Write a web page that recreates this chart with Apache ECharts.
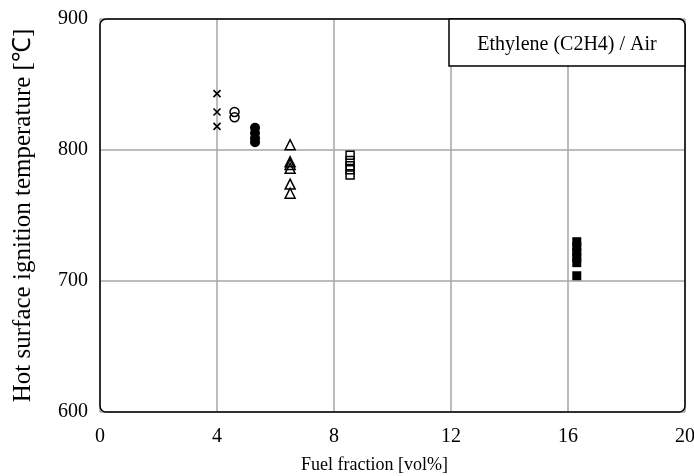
<!DOCTYPE html>
<html><head><meta charset="utf-8">
<script src="https://cdn.jsdelivr.net/npm/echarts@6/dist/echarts.min.js"></script>
<style>html,body{margin:0;padding:0;background:#fff}#c{width:694px;height:476px}</style>
</head><body><div id="c"></div>
<script>
// Data (fuel fraction [vol%], temperature [°C])
const crossX = 4.0;   const crossY = [843, 829, 818];
const openCircX = 4.6; const openCircY = [829, 825];
const fillCircX = 5.3; const fillCircY = [817, 813, 809, 806];
const triX = 6.5;     const triY = [804, 791, 789, 786, 774, 767];
const openSqX = 8.55; const openSqY = [796, 792, 788, 785, 781];
const fillSqX = 16.3; const fillSqY = [730, 726, 722, 718, 714, 704];
const xTicks = [0, 4, 8, 12, 16, 20];
const yTicks = [600, 700, 800, 900];
const legendText = 'Ethylene (C2H4) / Air';

const FONT = '"Liberation Serif", "Times New Roman", serif';
const pts = (x, ys) => ys.map(y => [x, y]);
const G = {left: 100, top: 19, right: 9, bottom: 64};
const W = 694, H = 476;
const BOX_L = 449, BOX_H = 47;

const chart = echarts.init(document.getElementById('c'), null, {renderer: 'canvas'});
chart.setOption({
  animation: false,
  backgroundColor: '#fff',
  grid: {left: G.left, top: G.top, right: G.right, bottom: G.bottom, show: false,
         containLabel: false, outerBoundsMode: 'none'},
  xAxis: {
    type: 'value', min: xTicks[0], max: xTicks[xTicks.length-1], interval: 4,
    name: 'Fuel fraction [vol%]', nameLocation: 'middle', nameGap: 44,
    nameTextStyle: {fontFamily: FONT, fontSize: 18, color: '#000', padding: [0, 36, 0, 0]},
    axisLine: {show: false}, axisTick: {show: false},
    axisLabel: {fontFamily: FONT, fontSize: 20, color: '#000', margin: 15},
    splitLine: {show: true, lineStyle: {color: '#a6a6a6', width: 1.5}}
  },
  yAxis: {
    type: 'value', min: yTicks[0], max: yTicks[yTicks.length-1], interval: 100,
    name: 'Hot surface ignition temperature [℃]', nameLocation: 'middle', nameGap: 64,
    nameTextStyle: {fontFamily: FONT, fontSize: 25, color: '#000'},
    axisLine: {show: false}, axisTick: {show: false},
    axisLabel: {fontFamily: FONT, fontSize: 20, color: '#000', margin: 12},
    splitLine: {show: true, lineStyle: {color: '#a6a6a6', width: 1.5}}
  },
  series: [
    {type: 'scatter', data: pts(crossX, crossY), symbol: 'path://M0,0L10,10M10,0L0,10', symbolSize: 7,
     itemStyle: {color: 'transparent', borderColor: '#000', borderWidth: 1.6, opacity: 1}},
    {type: 'scatter', data: pts(openCircX, openCircY), symbol: 'circle', symbolSize: 9,
     itemStyle: {color: 'transparent', borderColor: '#000', borderWidth: 1.5, opacity: 1}},
    {type: 'scatter', data: pts(fillCircX, fillCircY), symbol: 'circle', symbolSize: 10,
     itemStyle: {color: '#000', opacity: 1}},
    {type: 'scatter', data: pts(triX, triY), symbol: 'triangle', symbolSize: 10,
     itemStyle: {color: 'transparent', borderColor: '#000', borderWidth: 1.5, opacity: 1}},
    {type: 'scatter', data: pts(openSqX, openSqY), symbol: 'rect', symbolSize: 8,
     itemStyle: {color: 'transparent', borderColor: '#000', borderWidth: 1.5, opacity: 1}},
    {type: 'scatter', data: pts(fillSqX, fillSqY), symbol: 'rect', symbolSize: 9,
     itemStyle: {color: '#000', opacity: 1}}
  ],
  graphic: [
    {type: 'rect', z: 100, silent: true,
     shape: {x: G.left, y: G.top, width: W - G.left - G.right, height: H - G.top - G.bottom, r: 6},
     style: {fill: 'none', stroke: '#000', lineWidth: 1.5}},
    {type: 'rect', z: 101, silent: true,
     shape: {x: BOX_L, y: G.top, width: W - G.right - BOX_L, height: BOX_H, r: [0, 6, 0, 0]},
     style: {fill: '#fff', stroke: '#000', lineWidth: 1.5}},
    {type: 'text', z: 102, silent: true, x: BOX_L + (W - G.right - BOX_L) / 2, y: G.top + BOX_H / 2 + 2,
     style: {text: legendText, font: '20px ' + FONT, fill: '#000', align: 'center', verticalAlign: 'middle'}}
  ]
});
</script>
</body></html>
